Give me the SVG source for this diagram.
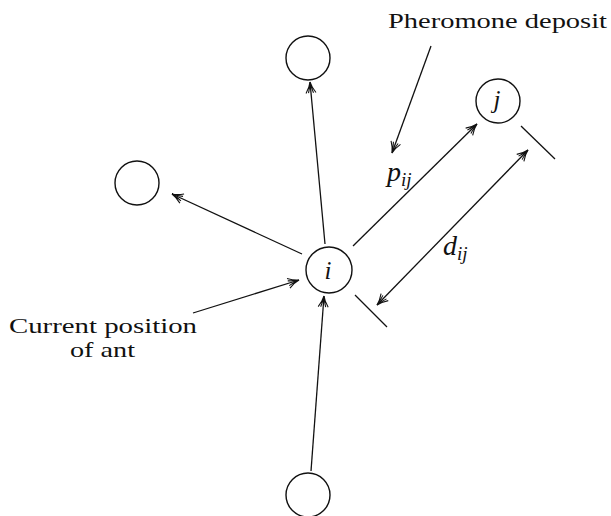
<svg xmlns="http://www.w3.org/2000/svg" width="611" height="516" viewBox="0 0 611 516">
<style>
.n{fill:none;stroke:#111;stroke-width:1.4}
.c line{stroke:#111;stroke-width:1.3}
.t{font-family:'Liberation Serif','DejaVu Serif',serif;font-size:22px;fill:#111}
.m{font-family:'Liberation Serif',serif;font-style:italic;fill:#111}
</style>
<defs>
<marker id="ah" viewBox="-12 -6 14 12" refX="0" refY="0" markerWidth="14" markerHeight="12" markerUnits="userSpaceOnUse" orient="auto-start-reverse">
<path d="M-11,-5 Q-5,-1 0,0 Q-5,1 -11,5 M-11,-2.5 Q-5,-0.5 0,0 Q-5,0.5 -11,2.5" fill="none" stroke="#111" stroke-width="1.1"/>
</marker>
</defs>
<rect width="611" height="516" fill="#fff"/>
<g id="node-top"><circle class="n" cx="308" cy="58" r="22"/></g>
<g id="node-j"><circle class="n" cx="498" cy="101" r="22"/><text class="m" x="497" y="108" font-size="25" text-anchor="middle">j</text></g>
<g id="node-left"><circle class="n" cx="137" cy="183" r="22"/></g>
<g id="node-i"><circle class="n" cx="329" cy="270" r="23"/><text class="m" x="328" y="279" font-size="25" text-anchor="middle">i</text></g>
<g id="node-bottom"><circle class="n" cx="308" cy="495" r="22"/></g>
<g id="connectors" class="c">
<line x1="325" y1="244" x2="310" y2="82" marker-end="url(#ah)"/>
<line x1="302" y1="254" x2="172" y2="194" marker-end="url(#ah)"/>
<line x1="353" y1="246" x2="477" y2="124" marker-end="url(#ah)"/>
<line x1="311" y1="471" x2="324" y2="296" marker-end="url(#ah)"/>
<line x1="193" y1="313" x2="299" y2="280" marker-end="url(#ah)"/>
<line x1="431" y1="46" x2="392" y2="153" marker-end="url(#ah)"/>
<line x1="528" y1="150" x2="377" y2="305" marker-start="url(#ah)" marker-end="url(#ah)"/>
<line x1="521" y1="126" x2="555" y2="159"/>
<line x1="355" y1="295" x2="387" y2="327"/>
</g>
<g id="labels">
<text class="t" x="388" y="28" textLength="219" lengthAdjust="spacingAndGlyphs">Pheromone deposit</text>
<text class="m" x="387" y="181" font-size="28">p<tspan font-size="19" dy="5">ij</tspan></text>
<text class="m" x="443" y="255" font-size="28">d<tspan font-size="19" dy="5">ij</tspan></text>
<text class="t" x="9" y="333" textLength="188" lengthAdjust="spacingAndGlyphs">Current position</text>
<text class="t" x="70" y="357" textLength="65" lengthAdjust="spacingAndGlyphs">of ant</text>
</g>
</svg>
